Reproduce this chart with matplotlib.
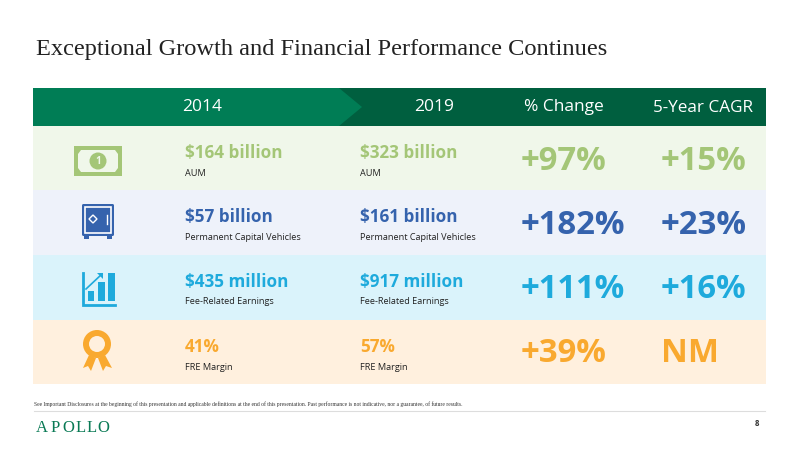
import matplotlib
matplotlib.use("Agg")
import matplotlib.pyplot as plt
from matplotlib.patches import Rectangle, Polygon, Circle, FancyBboxPatch

plt.rcParams['font.family'] = ['Open Sans', 'DejaVu Sans']

headers = ["2014", "2019", "% Change", "5-Year CAGR"]
values_2014 = ["$164 billion", "$57 billion", "$435 million", "41%"]
values_2019 = ["$323 billion", "$161 billion", "$917 million", "57%"]
labels = ["AUM", "Permanent Capital Vehicles", "Fee-Related Earnings", "FRE Margin"]
pct_change = ["+97%", "+182%", "+111%", "+39%"]
cagr = ["+15%", "+23%", "+16%", "NM"]

row_colors = ["#a4c677", "#3563ad", "#1eaadc", "#f9a92f"]
row_bgs = ["#f0f7ea", "#eef2fa", "#daf3fb", "#fff0de"]
row_tops = [126, 190, 255, 320]
row_bottoms = [190, 255, 320, 384]
big_offsets = [36, 36, 35, 34]

fig = plt.figure(figsize=(8, 4.5), dpi=100)
ax = fig.add_axes([0, 0, 1, 1])
ax.set_xlim(0, 800)
ax.set_ylim(450, 0)
ax.axis("off")

ax.text(36, 50, "Exceptional Growth and Financial Performance Continues",
        family="Liberation Serif", fontsize=17.6, color="#222222", va="center")

# header band, arrow on top of the dark part
ax.add_patch(Rectangle((33, 88), 733, 38, color="#005f3f", lw=0))
ax.add_patch(Polygon([(33, 88), (339, 88), (362, 107), (339, 126), (33, 126)],
                     color="#007d55", lw=0))
ax.text(202, 107, headers[0], color="white", fontsize=12.5, ha="center", va="center")
ax.text(434, 107, headers[1], color="white", fontsize=12.5, ha="center", va="center")
ax.text(564, 107, headers[2], color="white", fontsize=12.5, ha="center", va="center")
ax.text(703, 108, headers[3], color="white", fontsize=12.3, ha="center", va="center")

for i in range(4):
    top, bottom = row_tops[i], row_bottoms[i]
    c = row_colors[i]
    ax.add_patch(Rectangle((33, top), 733, bottom - top, color=row_bgs[i], lw=0))
    ax.text(185, top + 27, values_2014[i], color=c, fontsize=12.3, weight="bold", va="center")
    ax.text(360, top + 27, values_2019[i], color=c, fontsize=12.3, weight="bold", va="center")
    ax.text(185, top + 47, labels[i], color="#222222", fontsize=6.6, va="center")
    ax.text(360, top + 47, labels[i], color="#222222", fontsize=6.6, va="center")
    ax.text(521, top + big_offsets[i], pct_change[i], color=c, fontsize=23.7, weight="bold", va="center")
    ax.text(661, top + big_offsets[i], cagr[i], color=c, fontsize=23.7, weight="bold", va="center")

# bank note icon
g = row_colors[0]
ax.add_patch(Rectangle((74, 146), 48, 30, color=g, lw=0))
ax.add_patch(Polygon([(81, 150), (115, 150), (118, 154), (118, 168), (115, 172),
                      (81, 172), (78, 168), (78, 154)], color=row_bgs[0], lw=0))
ax.add_patch(Circle((98, 161), 8.5, color=g, lw=0))
ax.text(98, 161, "1", color=row_bgs[0], fontsize=7, weight="bold", ha="center", va="center")

# safe icon
b = row_colors[1]
ax.add_patch(FancyBboxPatch((82, 204), 32, 32, boxstyle="round,pad=0,rounding_size=1.5", color=b, lw=0))
ax.add_patch(Rectangle((84, 235), 5, 4, color=b, lw=0))
ax.add_patch(Rectangle((107, 235), 5, 4, color=b, lw=0))
ax.add_patch(Rectangle((85, 207), 26, 26, fill=False, ec="white", lw=1.2))
ax.add_patch(Polygon([(93, 215), (97, 219), (93, 223), (89, 219)], fill=False, ec="white", lw=1))
ax.plot([107, 107], [215, 224], color="white", lw=1)

# bar chart icon
s = row_colors[2]
ax.plot([82.5, 82.5, 115], [273, 305, 305], color=s, lw=2, solid_joinstyle="miter")
ax.add_patch(Rectangle((88, 291), 6, 10, color=s, lw=0))
ax.add_patch(Rectangle((98, 282), 7, 19, color=s, lw=0))
ax.add_patch(Rectangle((108, 273), 7, 28, color=s, lw=0))
ax.plot([86, 102], [289, 274], color=s, lw=1.2)
ax.add_patch(Polygon([(97, 273), (103, 273), (103, 279)], color=s, lw=0))

# ribbon icon
o = row_colors[3]
ax.add_patch(Polygon([(89, 355), (83, 368), (88, 366), (91, 371), (96, 358)], color=o, lw=0))
ax.add_patch(Polygon([(105, 355), (112, 368), (106, 366), (103, 371), (98, 358)], color=o, lw=0))
ax.add_patch(Circle((97, 344), 14, color=o, lw=0))
ax.add_patch(Circle((97, 344), 8, color=row_bgs[3], lw=0))

# footer
ax.text(34, 404, "See Important Disclosures at the beginning of this presentation and applicable definitions "
        "at the end of this presentation. Past performance is not indicative, nor a guarantee, of future results.",
        family="Liberation Serif", fontsize=4.08, color="#333333", va="center")
ax.plot([34, 765], [410.5, 410.5], color="#dddddd", lw=0.8)

# logo letters are spaced out by hand
logo_x = [42, 55, 68, 81, 92, 103]
for ch, x in zip("APOLLO", logo_x):
    ax.text(x, 428, ch, family="Liberation Serif", fontsize=12, color="#0a7a55", ha="center", va="center")
ax.text(757, 423, "8", fontsize=5.5, color="#333333", weight="bold", ha="center", va="center")

fig.savefig("out.png", dpi=100)
